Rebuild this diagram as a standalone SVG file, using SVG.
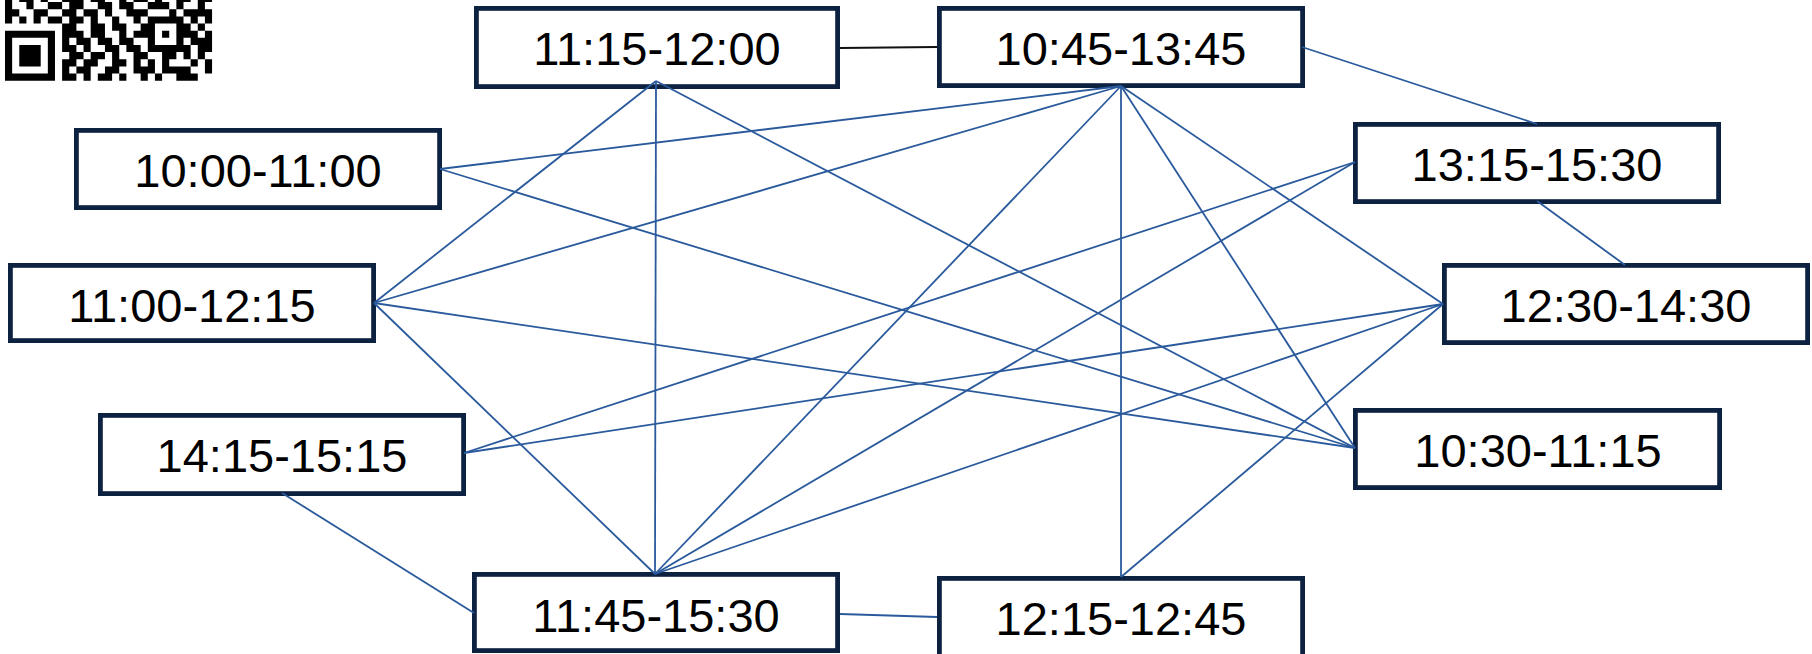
<svg xmlns="http://www.w3.org/2000/svg" width="1812" height="654" viewBox="0 0 1812 654">
<style>
.box{fill:#ffffff;stroke:#0d2141;stroke-width:4.8}
.lbl{font-family:"Liberation Sans",Arial,sans-serif;font-size:47px;fill:#000000;text-anchor:middle}
.e{stroke:#2a5a9c;stroke-width:1.8;fill:none}
.k{stroke:#111111;stroke-width:1.9;fill:none}
</style>
<rect x="0" y="0" width="1812" height="654" fill="#ffffff"/>
<g id="qr" transform="translate(5,-126.4) scale(7.14)">
<path fill="#000000" d="M0 17h1v1h-1z M2 17h2v1h-2z M5 17h1v1h-1z M8 17h3v1h-3z M12 17h2v1h-2z M16 17h1v1h-1z M18 17h2v1h-2z M21 17h1v1h-1z M24 17h2v1h-2z M27 17h2v1h-2z M0 18h1v1h-1z M3 18h1v1h-1z M6 18h2v1h-2z M9 18h2v1h-2z M13 18h2v1h-2z M16 18h2v1h-2z M20 18h3v1h-3z M24 18h1v1h-1z M27 18h1v1h-1z M0 19h2v1h-2z M4 19h2v1h-2z M8 19h2v1h-2z M11 19h2v1h-2z M14 19h1v1h-1z M17 19h3v1h-3z M23 19h1v1h-1z M25 19h4v1h-4z M0 20h1v1h-1z M2 20h1v1h-1z M4 20h1v1h-1z M6 20h2v1h-2z M9 20h2v1h-2z M12 20h1v1h-1z M15 20h1v1h-1z M18 20h1v1h-1z M20 20h5v1h-5z M26 20h1v1h-1z M28 20h1v1h-1z M8 21h2v1h-2z M12 21h2v1h-2z M15 21h2v1h-2z M19 21h2v1h-2z M24 21h2v1h-2z M27 21h1v1h-1z M0 22h7v1h-7z M8 22h3v1h-3z M12 22h2v1h-2z M16 22h1v1h-1z M18 22h3v1h-3z M22 22h1v1h-1z M24 22h3v1h-3z M28 22h1v1h-1z M0 23h1v1h-1z M6 23h1v1h-1z M8 23h1v1h-1z M10 23h2v1h-2z M13 23h2v1h-2z M16 23h2v1h-2z M20 23h1v1h-1z M24 23h1v1h-1z M26 23h3v1h-3z M0 24h1v1h-1z M2 24h3v1h-3z M6 24h1v1h-1z M8 24h2v1h-2z M11 24h1v1h-1z M14 24h2v1h-2z M17 24h2v1h-2z M20 24h6v1h-6z M27 24h2v1h-2z M0 25h1v1h-1z M2 25h3v1h-3z M6 25h1v1h-1z M9 25h2v1h-2z M12 25h2v1h-2z M15 25h1v1h-1z M18 25h2v1h-2z M22 25h2v1h-2z M25 25h1v1h-1z M27 25h1v1h-1z M0 26h1v1h-1z M2 26h3v1h-3z M6 26h1v1h-1z M8 26h2v1h-2z M11 26h2v1h-2z M15 26h2v1h-2z M18 26h1v1h-1z M20 26h1v1h-1z M22 26h1v1h-1z M26 26h1v1h-1z M28 26h1v1h-1z M0 27h1v1h-1z M6 27h1v1h-1z M8 27h1v1h-1z M10 27h2v1h-2z M14 27h2v1h-2z M18 27h3v1h-3z M22 27h4v1h-4z M28 27h1v1h-1z M0 28h7v1h-7z M8 28h2v1h-2z M11 28h1v1h-1z M13 28h2v1h-2z M16 28h1v1h-1z M19 28h1v1h-1z M21 28h1v1h-1z M24 28h3v1h-3z"/>
</g>
<g id="nodes">
<g id="n1115"><rect class="box" x="476.4" y="8.4" width="361.2" height="78.2"/><text class="lbl" x="657" y="65">11:15-12:00</text></g>
<g id="n1045"><rect class="box" x="939.4" y="8.4" width="363.2" height="77.2"/><text class="lbl" x="1121" y="65">10:45-13:45</text></g>
<g id="n1000"><rect class="box" x="76.4" y="130.4" width="363.2" height="77.2"/><text class="lbl" x="258" y="187">10:00-11:00</text></g>
<g id="n1100"><rect class="box" x="10.4" y="265.4" width="363.2" height="75.2"/><text class="lbl" x="192" y="322">11:00-12:15</text></g>
<g id="n1315"><rect class="box" x="1355.4" y="124.4" width="363.2" height="77.2"/><text class="lbl" x="1537" y="181">13:15-15:30</text></g>
<g id="n1230"><rect class="box" x="1444.4" y="265.4" width="363.2" height="77.2"/><text class="lbl" x="1626" y="322">12:30-14:30</text></g>
<g id="n1415"><rect class="box" x="100.4" y="415.4" width="363.2" height="78.2"/><text class="lbl" x="282" y="472">14:15-15:15</text></g>
<g id="n1030"><rect class="box" x="1355.4" y="410.4" width="364.2" height="77.2"/><text class="lbl" x="1538" y="467">10:30-11:15</text></g>
<g id="n1145"><rect class="box" x="474.4" y="574.4" width="363.2" height="76.2"/><text class="lbl" x="656" y="632">11:45-15:30</text></g>
<g id="n1215"><rect class="box" x="939.4" y="578.4" width="363.2" height="80"/><text class="lbl" x="1121" y="635">12:15-12:45</text></g>
</g>
<g id="connectors">
<line class="k" x1="840" y1="48" x2="937" y2="47"/>
<line class="e" x1="1302" y1="47" x2="1537" y2="124"/>
<line class="e" x1="1537" y1="201" x2="1625" y2="265"/>
<line class="e" x1="656" y1="81" x2="374" y2="303"/>
<line class="e" x1="656" y1="81" x2="655" y2="574"/>
<line class="e" x1="656" y1="81" x2="1355" y2="448"/>
<line class="e" x1="1121" y1="86" x2="440" y2="169"/>
<line class="e" x1="1121" y1="86" x2="374" y2="303"/>
<line class="e" x1="1121" y1="86" x2="655" y2="574"/>
<line class="e" x1="1121" y1="86" x2="1121" y2="577"/>
<line class="e" x1="1121" y1="86" x2="1443" y2="304"/>
<line class="e" x1="1121" y1="86" x2="1355" y2="448"/>
<line class="e" x1="440" y1="169" x2="1355" y2="448"/>
<line class="e" x1="374" y1="303" x2="1355" y2="448"/>
<line class="e" x1="374" y1="303" x2="655" y2="574"/>
<line class="e" x1="464" y1="453" x2="1355" y2="162"/>
<line class="e" x1="464" y1="453" x2="1443" y2="304"/>
<line class="e" x1="282" y1="493" x2="474" y2="613"/>
<line class="e" x1="655" y1="574" x2="1355" y2="162"/>
<line class="e" x1="655" y1="574" x2="1443" y2="304"/>
<line class="e" x1="840" y1="614" x2="937" y2="617"/>
<line class="e" x1="1121" y1="577" x2="1443" y2="304"/>
</g>
</svg>
